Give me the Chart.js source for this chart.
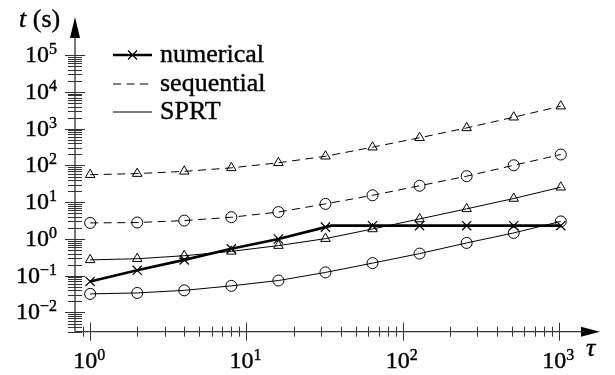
<!DOCTYPE html>
<html><head><meta charset="utf-8">
<script src="https://cdn.jsdelivr.net/npm/chart.js@4.4.1/dist/chart.umd.min.js"></script>
<style>html,body{margin:0;padding:0;background:#fff;}canvas{display:block;}</style>
</head><body>
<canvas id="c" width="615" height="375"></canvas>
<script>
// ---- data ----
const tau = [1, 2, 4, 8, 16, 32, 64, 128, 256, 512, 1024];
const numericalTau = [1, 2, 4, 8, 16, 32, 35, 64, 128, 256, 512, 1024];
const numerical = [0.07, 0.14, 0.27, 0.54, 1.0, 2.1, 2.3, 2.3, 2.3, 2.3, 2.3, 2.3];
const numericalMarker = [1, 1, 1, 1, 1, 1, 0, 1, 1, 1, 1, 1];
const seqTriangle = [56, 60, 69, 86, 118, 178, 314, 566, 1050, 2050, 4100];
const seqCircle = [2.73, 2.8, 3.16, 3.9, 5.4, 9.0, 15.4, 28, 51, 101, 198];
const sprtTriangle = [0.27, 0.29, 0.35, 0.46, 0.66, 1.02, 1.87, 3.5, 6.6, 12.6, 25.5];
const sprtCircle = [0.032, 0.034, 0.040, 0.053, 0.074, 0.123, 0.22, 0.40, 0.78, 1.46, 3.0];
const xTickExps = [0, 1, 2, 3];
const yTickExps = [-2, -1, 0, 1, 2, 3, 4, 5];
const legendLabels = ['numerical', 'sequential', 'SPRT'];
const yAxisTitle = ['t', ' (s)'];
const xAxisTitle = '\u03c4';

const FONT = '"Liberation Serif", "Times New Roman", serif';
const BASE_FONT = '24px ' + FONT;
const SUP_FONT = '16px ' + FONT;
const AXIS_COLOR = '#333';
const DASH = [8, 5.5];

function pts(xs, ys) { return xs.map((x, i) => ({ x: x, y: ys[i] })); }

function text(ctx, s, x, y) {
  ctx.fillText(s, x, y);
  ctx.strokeText(s, x, y);
}

function drawPower(ctx, exp, anchorX, baseY, align) {
  const base = '10';
  const sup = exp < 0 ? '\u2212' + Math.abs(exp) : String(exp);
  ctx.font = BASE_FONT; const wb = ctx.measureText(base).width;
  ctx.font = SUP_FONT; const ws = ctx.measureText(sup).width;
  const total = wb + ws;
  const left = align === 'right' ? anchorX - total : anchorX - total / 2;
  ctx.textAlign = 'left'; ctx.textBaseline = 'alphabetic';
  ctx.font = BASE_FONT; text(ctx, base, left, baseY);
  ctx.font = SUP_FONT; text(ctx, sup, left + wb, baseY - 8);
}

const axesPlugin = {
  id: 'axesPlugin',
  beforeDatasetsDraw(chart) {
    const ctx = chart.ctx, a = chart.chartArea;
    const xs = chart.scales.x, ys = chart.scales.y;
    const x0 = a.left, y0 = a.bottom;
    ctx.save();
    ctx.strokeStyle = AXIS_COLOR; ctx.lineWidth = 1.3;
    // y axis + arrow
    ctx.beginPath(); ctx.moveTo(x0, y0); ctx.lineTo(x0, a.top); ctx.stroke();
    ctx.fillStyle = '#000';
    ctx.beginPath(); ctx.moveTo(x0, a.top - 20); ctx.lineTo(x0 - 5, a.top + 1); ctx.lineTo(x0 + 5, a.top + 1); ctx.closePath(); ctx.fill();
    // x axis + arrow
    ctx.beginPath(); ctx.moveTo(x0, y0); ctx.lineTo(a.right, y0); ctx.stroke();
    ctx.beginPath(); ctx.moveTo(a.right + 18, y0); ctx.lineTo(a.right - 1, y0 - 5); ctx.lineTo(a.right - 1, y0 + 5); ctx.closePath(); ctx.fill();
    ctx.lineWidth = 1;
    // y ticks
    const yTop = Math.pow(10, yTickExps[yTickExps.length - 1]);
    for (let d = -3; d <= 5; d++) {
      for (let k = 1; k <= 9; k++) {
        const v = k * Math.pow(10, d);
        if (v < ys.min * 0.999 || v > yTop * 1.001) continue;
        const py = Math.round(ys.getPixelForValue(v)) + 0.5;
        const len = k === 1 ? 10 : 7;
        ctx.beginPath(); ctx.moveTo(x0 - len, py); ctx.lineTo(x0 + len, py); ctx.stroke();
      }
    }
    // x ticks
    const xRight = Math.pow(10, xTickExps[xTickExps.length - 1]);
    for (let d = -1; d <= 3; d++) {
      for (let k = 1; k <= 9; k++) {
        const v = k * Math.pow(10, d);
        if (v < 0.85 || v > xRight * 1.001) continue;
        const px = Math.round(xs.getPixelForValue(v)) + 0.5;
        const len = k === 1 ? 9 : 5;
        ctx.beginPath(); ctx.moveTo(px, y0 - len); ctx.lineTo(px, y0 + len); ctx.stroke();
      }
    }
    // text styling
    ctx.fillStyle = '#000'; ctx.strokeStyle = '#000'; ctx.lineWidth = 0.4; ctx.setLineDash([]);
    // tick labels
    yTickExps.forEach(e => drawPower(ctx, e, 57, ys.getPixelForValue(Math.pow(10, e)) + 7, 'right'));
    xTickExps.forEach(e => drawPower(ctx, e, xs.getPixelForValue(Math.pow(10, e)) - 1, 368, 'center'));
    // axis titles
    ctx.textAlign = 'left'; ctx.textBaseline = 'alphabetic';
    ctx.font = 'italic 26px ' + FONT;
    text(ctx, yAxisTitle[0], 19, 27);
    const wt = ctx.measureText(yAxisTitle[0]).width;
    ctx.font = '26px ' + FONT;
    text(ctx, yAxisTitle[1], 19 + wt, 27);
    ctx.font = 'italic 26px ' + FONT;
    text(ctx, xAxisTitle, 586, 356);
    // legend
    const rows = [55, 84, 112];
    const lx0 = 113, lx1 = 152;
    ctx.strokeStyle = '#000';
    ctx.lineWidth = 2.6;
    ctx.beginPath(); ctx.moveTo(lx0, rows[0]); ctx.lineTo(lx1, rows[0]); ctx.stroke();
    ctx.lineWidth = 1.2;
    const cx = (lx0 + lx1) / 2, r = 4.5;
    ctx.beginPath(); ctx.moveTo(cx - r, rows[0] - r); ctx.lineTo(cx + r, rows[0] + r);
    ctx.moveTo(cx - r, rows[0] + r); ctx.lineTo(cx + r, rows[0] - r); ctx.stroke();
    ctx.lineWidth = 1; ctx.setLineDash(DASH);
    ctx.beginPath(); ctx.moveTo(lx0, rows[1]); ctx.lineTo(lx1, rows[1]); ctx.stroke();
    ctx.setLineDash([]);
    ctx.beginPath(); ctx.moveTo(lx0, rows[2]); ctx.lineTo(lx1, rows[2]); ctx.stroke();
    ctx.font = '26px ' + FONT; ctx.lineWidth = 0.4;
    legendLabels.forEach((t, i) => text(ctx, t, 160, rows[i] + 7));
    ctx.restore();
  }
};

const common = { borderColor: '#000', backgroundColor: 'rgba(0,0,0,0)', pointBorderColor: '#000',
  pointBackgroundColor: 'rgba(0,0,0,0)', tension: 0, pointBorderWidth: 1, borderWidth: 1 };

new Chart(document.getElementById('c'), {
  type: 'line',
  data: {
    datasets: [
      Object.assign({}, common, { label: 'sequential (triangle)', data: pts(tau, seqTriangle), borderDash: DASH, pointStyle: 'triangle', pointRadius: 5.5 }),
      Object.assign({}, common, { label: 'sequential (circle)', data: pts(tau, seqCircle), borderDash: DASH, pointStyle: 'circle', pointRadius: 5.5 }),
      Object.assign({}, common, { label: 'SPRT (triangle)', data: pts(tau, sprtTriangle), pointStyle: 'triangle', pointRadius: 5.5 }),
      Object.assign({}, common, { label: 'SPRT (circle)', data: pts(tau, sprtCircle), pointStyle: 'circle', pointRadius: 5.5 }),
      Object.assign({}, common, { label: 'numerical', data: pts(numericalTau, numerical), borderWidth: 2.6, pointStyle: 'crossRot',
        pointRadius: numericalMarker.map(m => m ? 6.5 : 0), pointBorderWidth: 1.2 })
    ]
  },
  options: {
    responsive: false, animation: false, devicePixelRatio: 1,
    layout: { padding: { left: 75, right: 33, top: 37, bottom: 43.3 } },
    plugins: { legend: { display: false }, tooltip: { enabled: false } },
    elements: { point: { hoverRadius: 0 } },
    scales: {
      x: { type: 'logarithmic', min: 0.8, max: 1400, display: false },
      y: { type: 'logarithmic', min: 0.003, max: 312000, display: false }
    }
  },
  plugins: [axesPlugin]
});
</script>
</body></html>
